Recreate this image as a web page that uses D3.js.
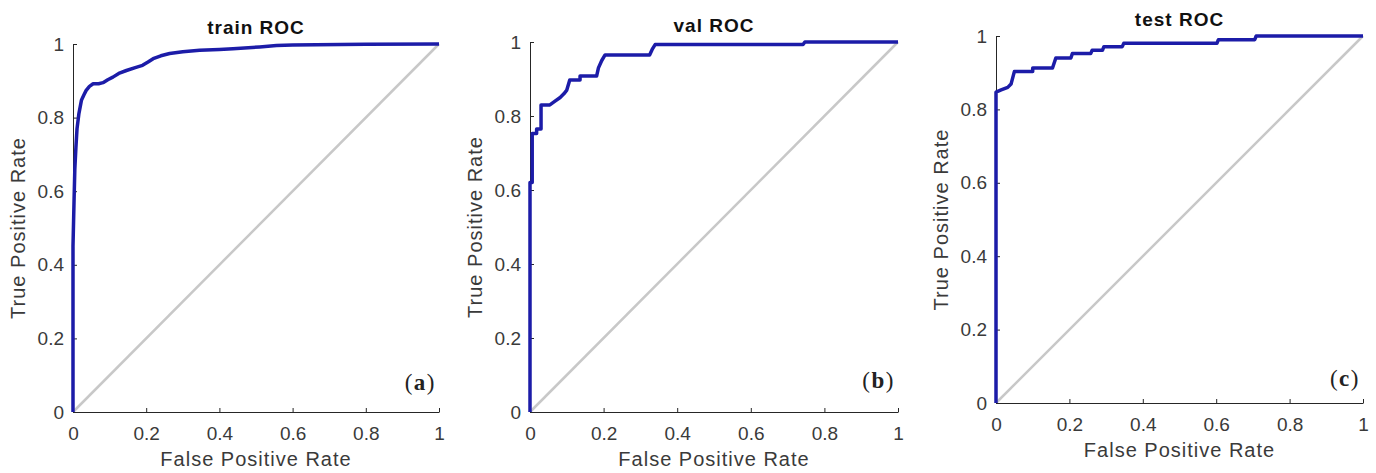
<!DOCTYPE html>
<html>
<head>
<meta charset="utf-8">
<script src="https://cdn.jsdelivr.net/npm/d3@7"></script>
<style>
  body { margin: 0; background: #fff; }
  svg { display: block; }
  .tick text { font-family: "Liberation Sans", Arial, sans-serif; font-size: 19px; fill: #3a3a3a; }
  .tick line, .domain { stroke: #262626; }
  .axis-title { font-family: "Liberation Sans", Arial, sans-serif; font-size: 20px; fill: #3a3a3a; letter-spacing: 1px; }
  .title { font-family: "Liberation Sans", Arial, sans-serif; font-size: 19px; font-weight: bold; fill: #111; letter-spacing: 1px; }
  .tag { font-family: "Liberation Serif", "Times New Roman", serif; font-size: 23px; fill: #222; letter-spacing: 1.5px; }
</style>
</head>
<body>
<div class="viz"></div>
<script>
const W = 1376, H = 473;

const ticks = [0, 0.2, 0.4, 0.6, 0.8, 1];
const titles = ['train ROC', 'val ROC', 'test ROC'];
const tags = ['a', 'b', 'c'];

// train ROC
const trainFpr = [0, 0, 0.003, 0.005, 0.008, 0.011, 0.016, 0.023, 0.03, 0.036, 0.045, 0.055, 0.07, 0.082, 0.095, 0.109, 0.125, 0.146, 0.17, 0.19, 0.205, 0.219, 0.24, 0.264, 0.3, 0.346, 0.4, 0.437, 0.51, 0.556, 0.6, 0.665, 0.8, 1];
const trainTpr = [0, 0.45, 0.58, 0.66, 0.72, 0.77, 0.81, 0.847, 0.862, 0.874, 0.885, 0.892, 0.892, 0.895, 0.903, 0.91, 0.92, 0.928, 0.936, 0.942, 0.951, 0.96, 0.968, 0.974, 0.979, 0.983, 0.985, 0.987, 0.992, 0.996, 0.997, 0.998, 0.999, 1];

// val ROC
const valFpr = [0, 0, 0.006, 0.006, 0.018, 0.018, 0.03, 0.03, 0.054, 0.068, 0.082, 0.092, 0.1, 0.108, 0.136, 0.136, 0.181, 0.186, 0.195, 0.204, 0.325, 0.332, 0.34, 0.742, 0.747, 1];
const valTpr = [0, 0.62, 0.62, 0.753, 0.753, 0.765, 0.765, 0.83, 0.83, 0.84, 0.85, 0.86, 0.87, 0.897, 0.897, 0.908, 0.908, 0.93, 0.95, 0.965, 0.965, 0.98, 0.993, 0.993, 1, 1];

// test ROC
const testFpr = [0, 0, 0.014, 0.032, 0.041, 0.05, 0.1, 0.1, 0.154, 0.163, 0.204, 0.208, 0.258, 0.262, 0.29, 0.294, 0.344, 0.348, 0.602, 0.606, 0.705, 0.709, 1];
const testTpr = [0, 0.847, 0.853, 0.86, 0.869, 0.903, 0.903, 0.913, 0.913, 0.94, 0.94, 0.952, 0.952, 0.961, 0.961, 0.971, 0.971, 0.98, 0.98, 0.99, 0.99, 1, 1];

const curves = [[trainFpr, trainTpr], [valFpr, valTpr], [testFpr, testTpr]];

// plot boxes in pixels: left, right, top, bottom
const boxes = [
  {l: 73, r: 439, t: 44, b: 412, tagDy: 22},
  {l: 530, r: 898, t: 42, b: 412, tagDy: 24},
  {l: 996, r: 1363, t: 36, b: 403, tagDy: 17}
];

const svg = d3.select('.viz').append('svg')
  .attr('width', W)
  .attr('height', H);

const fmt = d => d === 0 || d === 1 ? String(d) : d3.format('.1f')(d);

boxes.forEach((box, i) => {
  const x = d3.scaleLinear([0, 1], [box.l, box.r]);
  const y = d3.scaleLinear([0, 1], [box.b, box.t]);
  const g = svg.append('g');

  // diagonal chance line
  g.append('path')
    .datum([0, 1])
    .attr('fill', 'none')
    .attr('stroke', '#c8c8c8')
    .attr('stroke-width', 2.5)
    .attr('d', d3.line().x(d => x(d)).y(d => y(d)));

  g.append('g')
    .attr('transform', `translate(0,${box.b})`)
    .call(d3.axisBottom(x).tickValues(ticks).tickFormat(fmt).tickSizeInner(-4).tickSizeOuter(0).tickPadding(15));

  g.append('g')
    .attr('transform', `translate(${box.l},0)`)
    .call(d3.axisLeft(y).tickValues(ticks).tickFormat(fmt).tickSizeInner(-4).tickSizeOuter(0).tickPadding(9));

  const [fpr, tpr] = curves[i];
  const pts = fpr.map((f, k) => [f, tpr[k]]);
  g.append('path')
    .datum(pts)
    .attr('fill', 'none')
    .attr('stroke', '#1c1ca8')
    .attr('stroke-width', 3.5)
    .attr('stroke-linejoin', 'round')
    .attr('d', d3.line().x(d => x(d[0])).y(d => y(d[1])));

  g.append('text')
    .attr('class', 'title')
    .attr('text-anchor', 'middle')
    .attr('x', (box.l + box.r) / 2)
    .attr('y', box.t - 10)
    .text(titles[i]);

  g.append('text')
    .attr('class', 'axis-title')
    .attr('text-anchor', 'middle')
    .attr('x', (box.l + box.r) / 2)
    .attr('y', box.b + 54)
    .text('False Positive Rate');

  g.append('text')
    .attr('class', 'axis-title')
    .attr('text-anchor', 'middle')
    .attr('transform', `translate(${box.l - 48},${(box.t + box.b) / 2}) rotate(-90)`)
    .text('True Positive Rate');

  const tag = g.append('text')
    .attr('class', 'tag')
    .attr('text-anchor', 'end')
    .attr('x', box.r - 3)
    .attr('y', box.b - box.tagDy);
  tag.append('tspan').text('(');
  tag.append('tspan').attr('font-weight', 'bold').text(tags[i]);
  tag.append('tspan').text(')');
});
</script>
</body>
</html>
